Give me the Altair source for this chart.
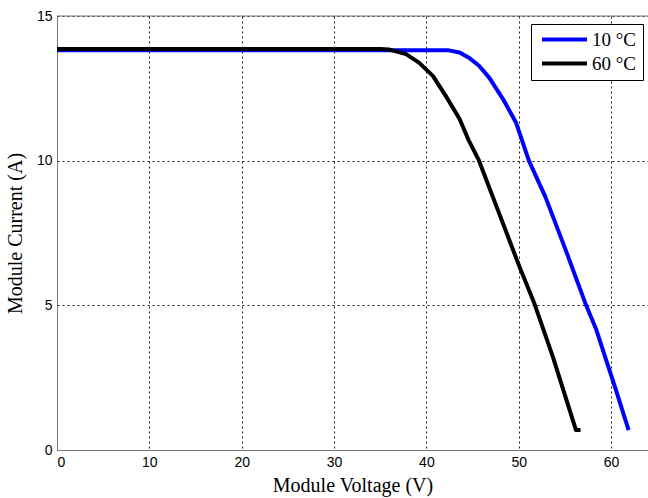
import altair as alt
import pandas as pd

# 10 °C curve
v10 = [0, 42.3, 43.6, 44.6, 45.7, 46.8, 48.3, 49.7, 51.1, 52.9, 55.1, 57.3, 58.35, 60.5, 61.9]
i10 = [13.82, 13.82, 13.74, 13.56, 13.28, 12.87, 12.13, 11.32, 10.0, 8.74, 6.9, 5.0, 4.2, 2.1, 0.69]
# 60 °C curve
v60 = [0, 35.0, 36.0, 37.8, 39.2, 40.7, 42.1, 43.6, 44.6, 45.7, 47.9, 50.1, 51.7, 53.7, 56.2, 56.7]
i60 = [13.86, 13.86, 13.84, 13.68, 13.39, 12.93, 12.24, 11.44, 10.69, 10.0, 8.16, 6.32, 5.06, 3.22, 0.69, 0.69]

series = ["10 °C", "60 °C"]
colors = ["#0000ff", "#000000"]
x_ticks = [0, 10, 20, 30, 40, 50, 60]
y_ticks = [0, 5, 10, 15]

rows = []
for k, (vs, cs) in enumerate([(v10, i10), (v60, i60)]):
    for j, (v, c) in enumerate(zip(vs, cs)):
        rows.append({"V": v, "I": c, "T": series[k], "o": j})
df = pd.DataFrame(rows)

W, H = 591, 434

lines = alt.Chart(df).mark_line(strokeWidth=4, strokeJoin="round").encode(
    x=alt.X("V:Q", scale=alt.Scale(domain=[0, 64], nice=False),
            axis=alt.Axis(values=x_ticks, title="Module Voltage (V)", format="d")),
    y=alt.Y("I:Q", scale=alt.Scale(domain=[0, 15], nice=False),
            axis=alt.Axis(values=y_ticks, title="Module Current (A)", format="d",
                          titleX=-42, titleY=H / 2, titleBaseline="middle")),
    color=alt.Color("T:N", scale=alt.Scale(domain=series, range=colors),
                    legend=alt.Legend(title=None, orient="none", legendX=474, legendY=8,
                                      symbolType="M-1,0H9", symbolSize=81,
                                      symbolStrokeWidth=4, labelFont="Liberation Serif",
                                      labelFontSize=19, labelColor="black",
                                      strokeColor="black", fillColor="white",
                                      padding=6, rowPadding=4, labelOffset=36,
                                      symbolOffset=0)),
    order="o:Q",
)

top = alt.Chart(pd.DataFrame({"y": [15]})).mark_rule(color="#777", strokeWidth=1).encode(
    y="y:Q", x=alt.value(0), x2=alt.value(W)
)

chart = (lines + top).properties(
    width=W, height=H,
    background="white",
    autosize=alt.AutoSizeParams(type="none"),
    padding={"left": 57, "top": 16, "right": 0, "bottom": 48},
).configure_view(strokeWidth=0).configure_axis(
    domainColor="#777", ticks=False, grid=True, gridColor="black",
    gridDash=[2, 3], gridWidth=1, gridOpacity=0.9,
    labelFont="Liberation Sans", labelFontSize=14, labelColor="black",
    titleFont="Liberation Serif", titleFontSize=20, titleFontWeight="normal",
    titleColor="black", labelPadding=5,
).configure_axisX(titlePadding=6)

chart.save("out.html", embed_options={"renderer": "svg", "actions": False})
